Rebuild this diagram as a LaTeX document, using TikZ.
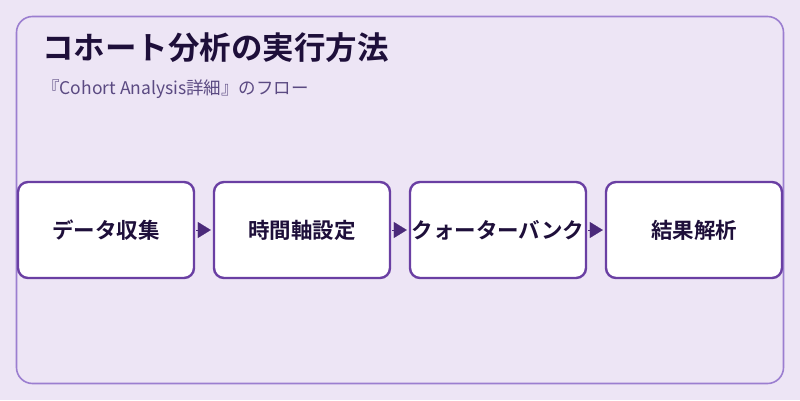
\documentclass[tikz,border=0pt]{standalone}
\usepackage{fontspec}
\setmainfont{Noto Sans CJK JP}
\newfontfamily\cjkb{Noto Sans CJK JP Bold}
\newfontfamily\cjkr{Noto Sans CJK JP}
\usetikzlibrary{arrows.meta}
\definecolor{bgc}{HTML}{EDE5F5}
\definecolor{framec}{HTML}{9B7ED0}
\definecolor{boxc}{HTML}{6A3FA3}
\definecolor{arrc}{HTML}{4B2A7A}
\definecolor{titlec}{HTML}{1E0F3A}
\definecolor{subc}{HTML}{5B4A82}
\tikzset{
  stepbox/.style={draw=boxc, line width=2.4pt, fill=white, rounded corners=10pt,
    minimum width=176pt, minimum height=96pt, inner sep=0pt,
    font=\cjkb\fontsize{21.5}{25}\selectfont, text=titlec},
  flowarrow/.style={arrc, -{Triangle[length=13pt,width=16pt]}, line width=0.1pt, shorten <=1pt, shorten >=2pt}
}
\begin{document}
\begin{tikzpicture}[x=1pt,y=1pt]
\fill[bgc] (0,0) rectangle (800,400);
\useasboundingbox (0,0) rectangle (800,400);
\draw[framec, line width=1.6pt, rounded corners=16pt] (16.5,16.5) rectangle (783.5,383.5);
\node[anchor=base west, inner sep=0pt, text=titlec, font=\cjkb\fontsize{31.5}{36}\selectfont] (title) at (42,341) {コホート分析の実行方法};
\node[anchor=base west, inner sep=0pt, text=subc, font=\cjkr\fontsize{17.5}{21}\selectfont] (sub) at (42,306) {『Cohort Analysis詳細』のフロー};
\node[stepbox] (s1) at (106,170) {データ収集};
\node[stepbox] (s2) at (302,170) {時間軸設定};
\node[stepbox] (s3) at (498,170) {クォーターバンク};
\node[stepbox] (s4) at (694,170) {結果解析};
\draw[flowarrow] (s1.east) -- (s2.west);
\draw[flowarrow] (s2.east) -- (s3.west);
\draw[flowarrow] (s3.east) -- (s4.west);
\end{tikzpicture}
\end{document}
